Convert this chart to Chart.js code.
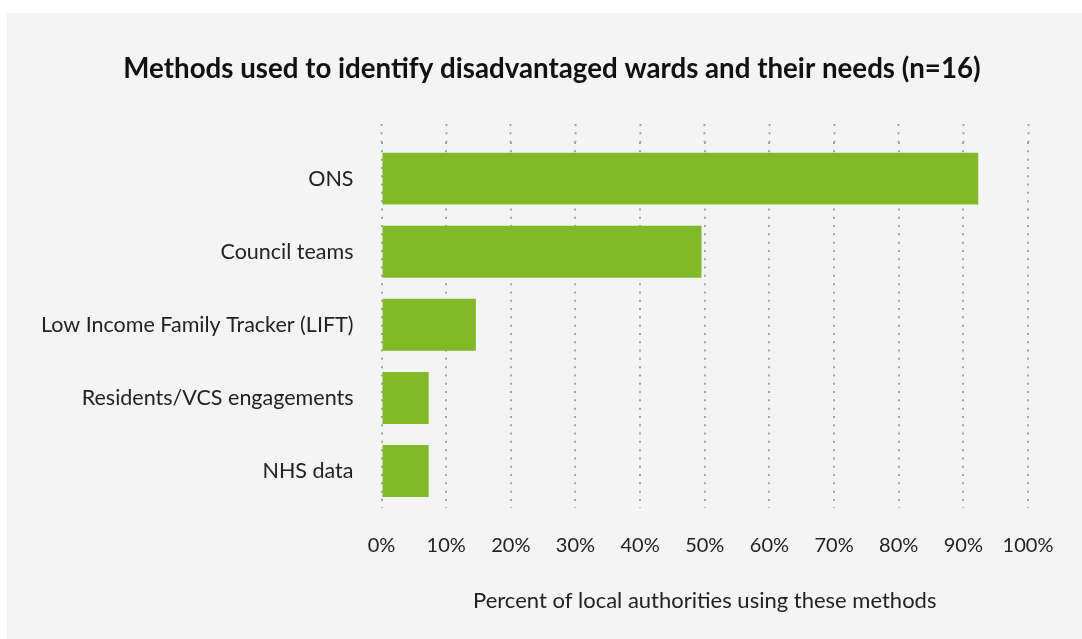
<!DOCTYPE html>
<html>
<head>
<meta charset="utf-8">
<script src="https://cdn.jsdelivr.net/npm/chart.js@4.4.1/dist/chart.umd.min.js"></script>
<style>
  html, body { margin: 0; padding: 0; background: #ffffff; }
  .panel {
    position: absolute;
    left: 7px;
    top: 13px;
    width: 1075px;
    height: 626px;
    background: #f4f4f4;
  }
</style>
</head>
<body>
<div class="panel">
  <canvas id="chart" width="1075" height="626"></canvas>
</div>
<script>
const methods = [
  "ONS",
  "Council teams",
  "Low Income Family Tracker (LIFT)",
  "Residents/VCS engagements",
  "NHS data",
];
const sharePercent = [92.3, 49.5, 14.6, 7.3, 7.3];

const FONT = "Lato, 'Open Sans', sans-serif";
const BAR_GREEN = "#82b929";
const DOT_GREY = "#a3a3a3";
const DOTS = [2, 6.3];

// keep the plot's right edge clear of the "100%" label
const keepRightGap = (scale) => {
  scale.paddingRight = 54;
};

const ctx = document.getElementById("chart");

new Chart(ctx, {
  type: "bar",
  data: {
    labels: methods,
    datasets: [
      {
        label: "Percent of local authorities",
        data: sharePercent,
        backgroundColor: BAR_GREEN,
        hoverBackgroundColor: BAR_GREEN,
        borderWidth: 0,
        categoryPercentage: 1,
        barPercentage: 0.71,
        xAxisID: "x",
      },
    ],
  },
  options: {
    indexAxis: "y",
    responsive: false,
    animation: false,
    layout: {
      padding: { left: 15, right: 0, top: 0, bottom: 25 },
    },
    scales: {
      x: {
        position: "bottom",
        min: 0,
        max: 100,
        // v4 reads the grid line dash from border.dash
        border: { display: false, dash: DOTS },
        grid: {
          color: DOT_GREY,
          lineWidth: 2,
          drawTicks: false,
        },
        ticks: {
          stepSize: 10,
          padding: 26,
          color: "#222222",
          font: { family: FONT, size: 20 },
          callback: (value) => `${value}%`,
        },
        title: {
          display: true,
          text: "Percent of local authorities using these methods",
          color: "#222222",
          font: { family: FONT, size: 22 },
          padding: { top: 4, bottom: 0 },
        },
        afterFit: keepRightGap,
      },
      // top axis only carries the dotted stubs above the bars
      x2: {
        position: "top",
        min: 0,
        max: 100,
        border: { display: false },
        grid: {
          drawOnChartArea: false,
          drawTicks: true,
          tickLength: 18,
          tickColor: DOT_GREY,
          tickWidth: 2,
          tickBorderDash: DOTS,
        },
        ticks: { display: false, stepSize: 10 },
        afterFit: keepRightGap,
      },
      y: {
        border: { display: false },
        grid: { display: false, drawTicks: false },
        ticks: {
          padding: 28,
          color: "#222222",
          font: { family: FONT, size: 21.5 },
        },
        afterFit(scale) {
          scale.width = 359.5;
        },
      },
    },
    plugins: {
      legend: { display: false },
      tooltip: { enabled: false },
      title: {
        display: true,
        text: "Methods used to identify disadvantaged wards and their needs (n=16)",
        color: "#111111",
        font: { family: FONT, size: 27.7, weight: "bold" },
        padding: { top: 39.6, bottom: 38.2 },
      },
    },
  },
});
</script>
</body>
</html>
